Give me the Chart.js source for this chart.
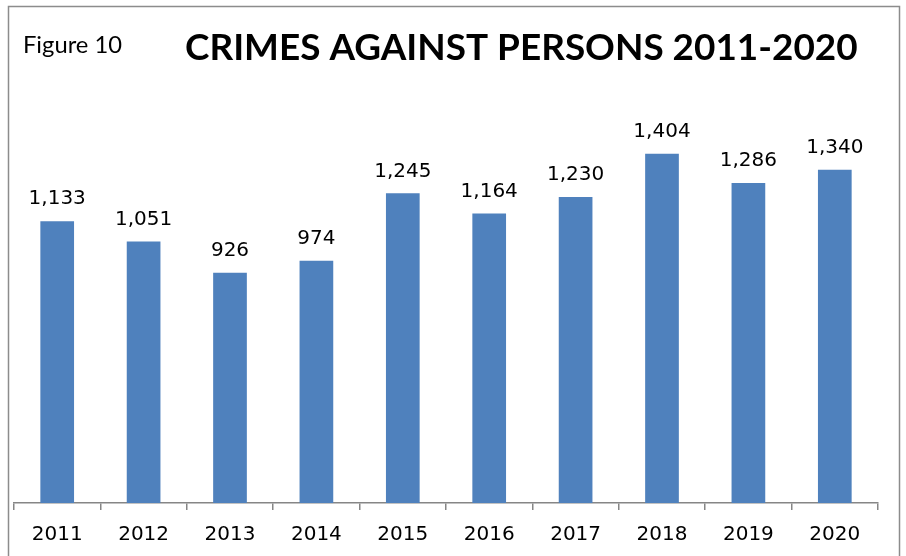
<!DOCTYPE html>
<html>
<head>
<meta charset="utf-8">
<script src="https://cdn.jsdelivr.net/npm/chart.js@4.4.1/dist/chart.umd.min.js"></script>
<style>
  html, body { margin: 0; padding: 0; background: #fff; }
  #wrap { width: 906px; height: 556px; position: relative; }
</style>
</head>
<body>
<div id="wrap"><canvas id="crimesChart" width="906" height="556"></canvas></div>
<script>
// DATA
const years = ['2011', '2012', '2013', '2014', '2015', '2016', '2017', '2018', '2019', '2020'];
const crimes = [1133, 1051, 926, 974, 1245, 1164, 1230, 1404, 1286, 1340];
const chartTitle = 'CRIMES AGAINST PERSONS 2011-2020';
const figureLabel = 'Figure 10';

// fit a font size so text spans the given width
function fitFont(ctx, text, weight, family, width) {
    ctx.font = `${weight} 40px ${family}`;
    const w = ctx.measureText(text).width;
    return 40 * width / w;
}

// frame + titles
const framePlugin = {
    id: 'framePlugin',
    beforeDraw(chart) {
        const ctx = chart.ctx;
        ctx.save();
        ctx.fillStyle = '#fff';
        ctx.fillRect(0, 0, chart.width, chart.height);
        ctx.strokeStyle = '#8c8c8c';
        ctx.lineWidth = 1.5;
        ctx.strokeRect(8.5, 6.5, 891, 600);
        ctx.restore();
    },
    afterDraw(chart) {
        const ctx = chart.ctx;
        ctx.save();
        ctx.fillStyle = '#000';
        ctx.textBaseline = 'alphabetic';
        ctx.textAlign = 'left';

        let size = fitFont(ctx, chartTitle, 'bold', 'Lato', 673);
        ctx.font = `bold ${size}px Lato`;
        ctx.fillText(chartTitle, 185, 60);

        size = fitFont(ctx, figureLabel, 'normal', 'Lato', 99);
        ctx.font = `normal ${size}px Lato`;
        ctx.fillText(figureLabel, 23, 53);
        ctx.restore();
    }
};

// value labels above bars
const valueLabels = {
    id: 'valueLabels',
    afterDatasetsDraw(chart) {
        const ctx = chart.ctx;
        const meta = chart.getDatasetMeta(0);
        ctx.save();
        ctx.fillStyle = '#000';
        ctx.font = '20px "DejaVu Sans"';
        ctx.textAlign = 'center';
        ctx.textBaseline = 'middle';
        meta.data.forEach((bar, i) => {
            ctx.fillText(crimes[i].toLocaleString('en-US'), bar.x, bar.y - 22);
        });
        ctx.restore();
    }
};

const ctx = document.getElementById('crimesChart').getContext('2d');

new Chart(ctx, {
    type: 'bar',
    data: {
        labels: years,
        datasets: [{
            data: crimes,
            backgroundColor: '#4F81BD',
            borderWidth: 0,
            barPercentage: 0.39,
            categoryPercentage: 1
        }]
    },
    options: {
        responsive: false,
        animation: false,
        layout: {
            padding: { left: 14, right: 28, top: 105, bottom: 0 }
        },
        plugins: {
            legend: { display: false },
            title: { display: false },
            tooltip: { enabled: false }
        },
        scales: {
            x: {
                offset: true,
                grid: {
                    offset: true,
                    drawOnChartArea: false,
                    drawTicks: true,
                    tickLength: 7,
                    color: '#868686',
                    lineWidth: 1.5
                },
                border: { display: true, color: '#868686', width: 1.5 },
                ticks: {
                    color: '#000',
                    padding: 13,
                    maxRotation: 0,
                    font: { family: 'DejaVu Sans', size: 20 }
                },
                afterFit(scale) { scale.height = 53; }
            },
            y: {
                display: false,
                min: 0,
                max: 1600
            }
        }
    },
    plugins: [framePlugin, valueLabels]
});
</script>
</body>
</html>
